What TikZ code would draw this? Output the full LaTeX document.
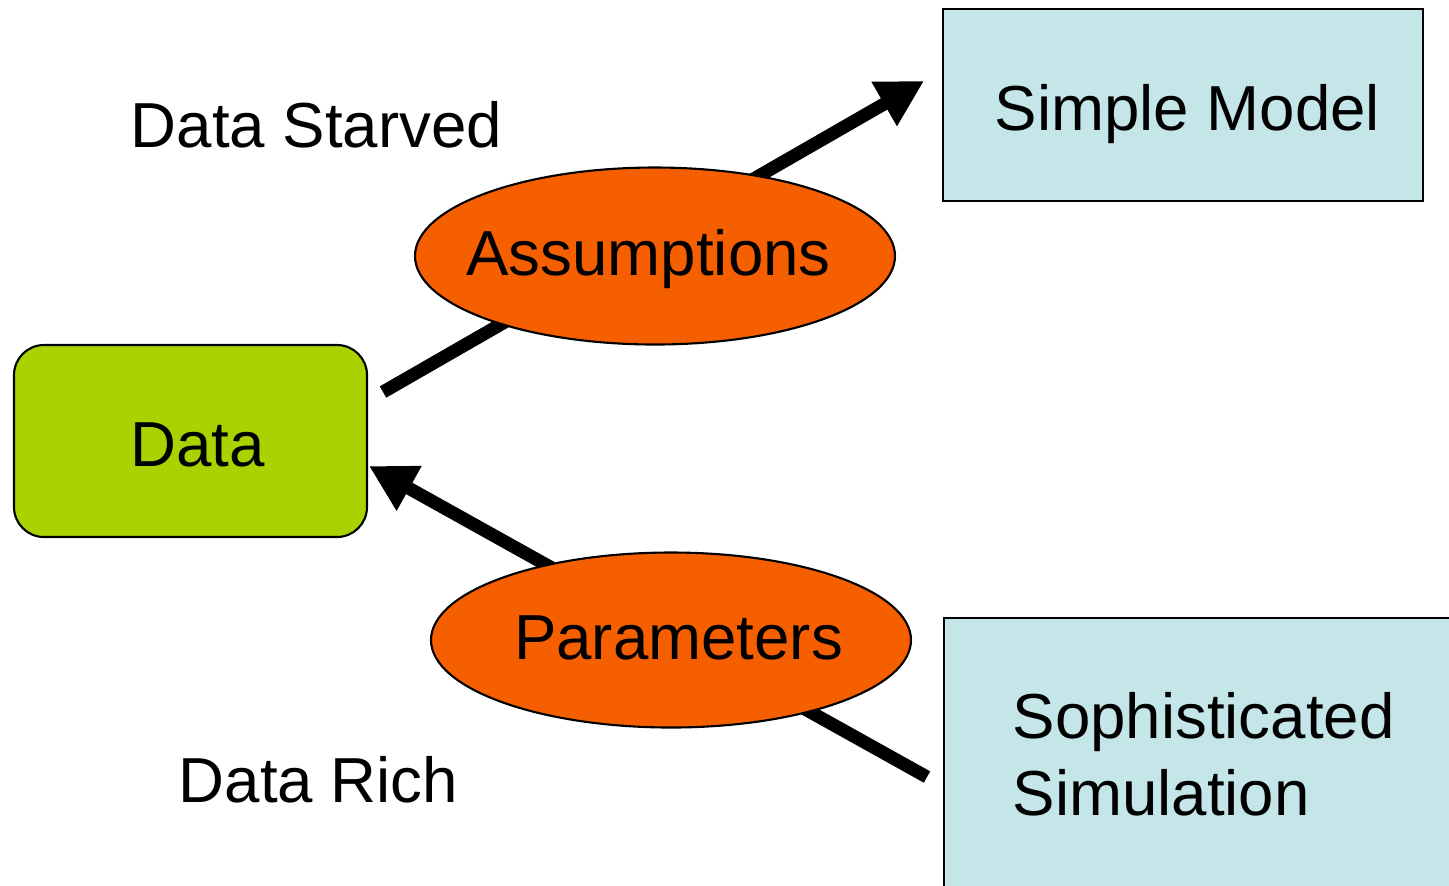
\documentclass[tikz,border=0pt]{standalone}
\usepackage{fontspec}
\setmainfont{Liberation Sans}
\usetikzlibrary{arrows.meta,shapes.geometric}
\definecolor{datagreen}{RGB}{170,210,0}
\definecolor{boxblue}{RGB}{197,230,232}
\definecolor{ovalorange}{RGB}{245,95,0}
\tikzset{
  bigfont/.style={font=\fontsize{18.1pt}{21.9pt}\selectfont, inner sep=0pt},
  txt/.style={bigfont, text height=0.458cm, text depth=0cm},
  bigarrow/.style={line width=0.13cm, -{Triangle[length=0.46cm,width=0.48cm]}},
  oval/.style={ellipse, draw=black, line width=0.6pt, fill=ovalorange, inner sep=0pt},
  bluebox/.style={draw=black, line width=0.6pt, fill=boxblue, inner sep=0pt},
}
\begin{document}
\begin{tikzpicture}
\useasboundingbox (0,0) rectangle (14.49,-8.85);
\clip (0,0) rectangle (14.49,-8.85);
% boxes
\node[bluebox, minimum width=4.80cm, minimum height=1.92cm] (simple) at (11.83,-1.05) {};
\node[txt] (simpletxt) at (11.875,-1.08) {Simple Model};
\node[bluebox, minimum width=5.17cm, minimum height=2.83cm, anchor=north west] (soph) at (9.43,-6.17) {};
\node[bigfont, anchor=base west, align=left] (sophtxt) at (10.12,-8.15) {Sophisticated\\Simulation};
\node[draw=black, line width=0.6pt, fill=datagreen, rounded corners=0.3cm, minimum width=3.53cm, minimum height=1.92cm] (data) at (1.905,-4.41) {};
\node[txt] (datatxt) at (1.975,-4.435) {Data};
% connector coordinates
\coordinate (a1s) at (3.83,-3.92);
\coordinate (a1e) at (9.24,-0.81);
\coordinate (a2s) at (9.27,-7.77);
\coordinate (a2e) at (3.69,-4.66);
\draw[bigarrow] (a1s) -- (a1e);
\draw[bigarrow] (a2s) -- (a2e);
% ovals
\node[oval, minimum width=4.80cm, minimum height=1.77cm] (assum) at (6.55,-2.56) {};
\node[txt] (assumtxt) at (6.485,-2.525) {Assumptions};
\node[oval, minimum width=4.80cm, minimum height=1.75cm] (param) at (6.71,-6.40) {};
\node[txt] (paramtxt) at (6.785,-6.37) {Parameters};
% free labels
\node[txt] (starved) at (3.165,-1.25) {Data Starved};
\node[txt] (rich) at (3.185,-7.80) {Data Rich};
\end{tikzpicture}
\end{document}
